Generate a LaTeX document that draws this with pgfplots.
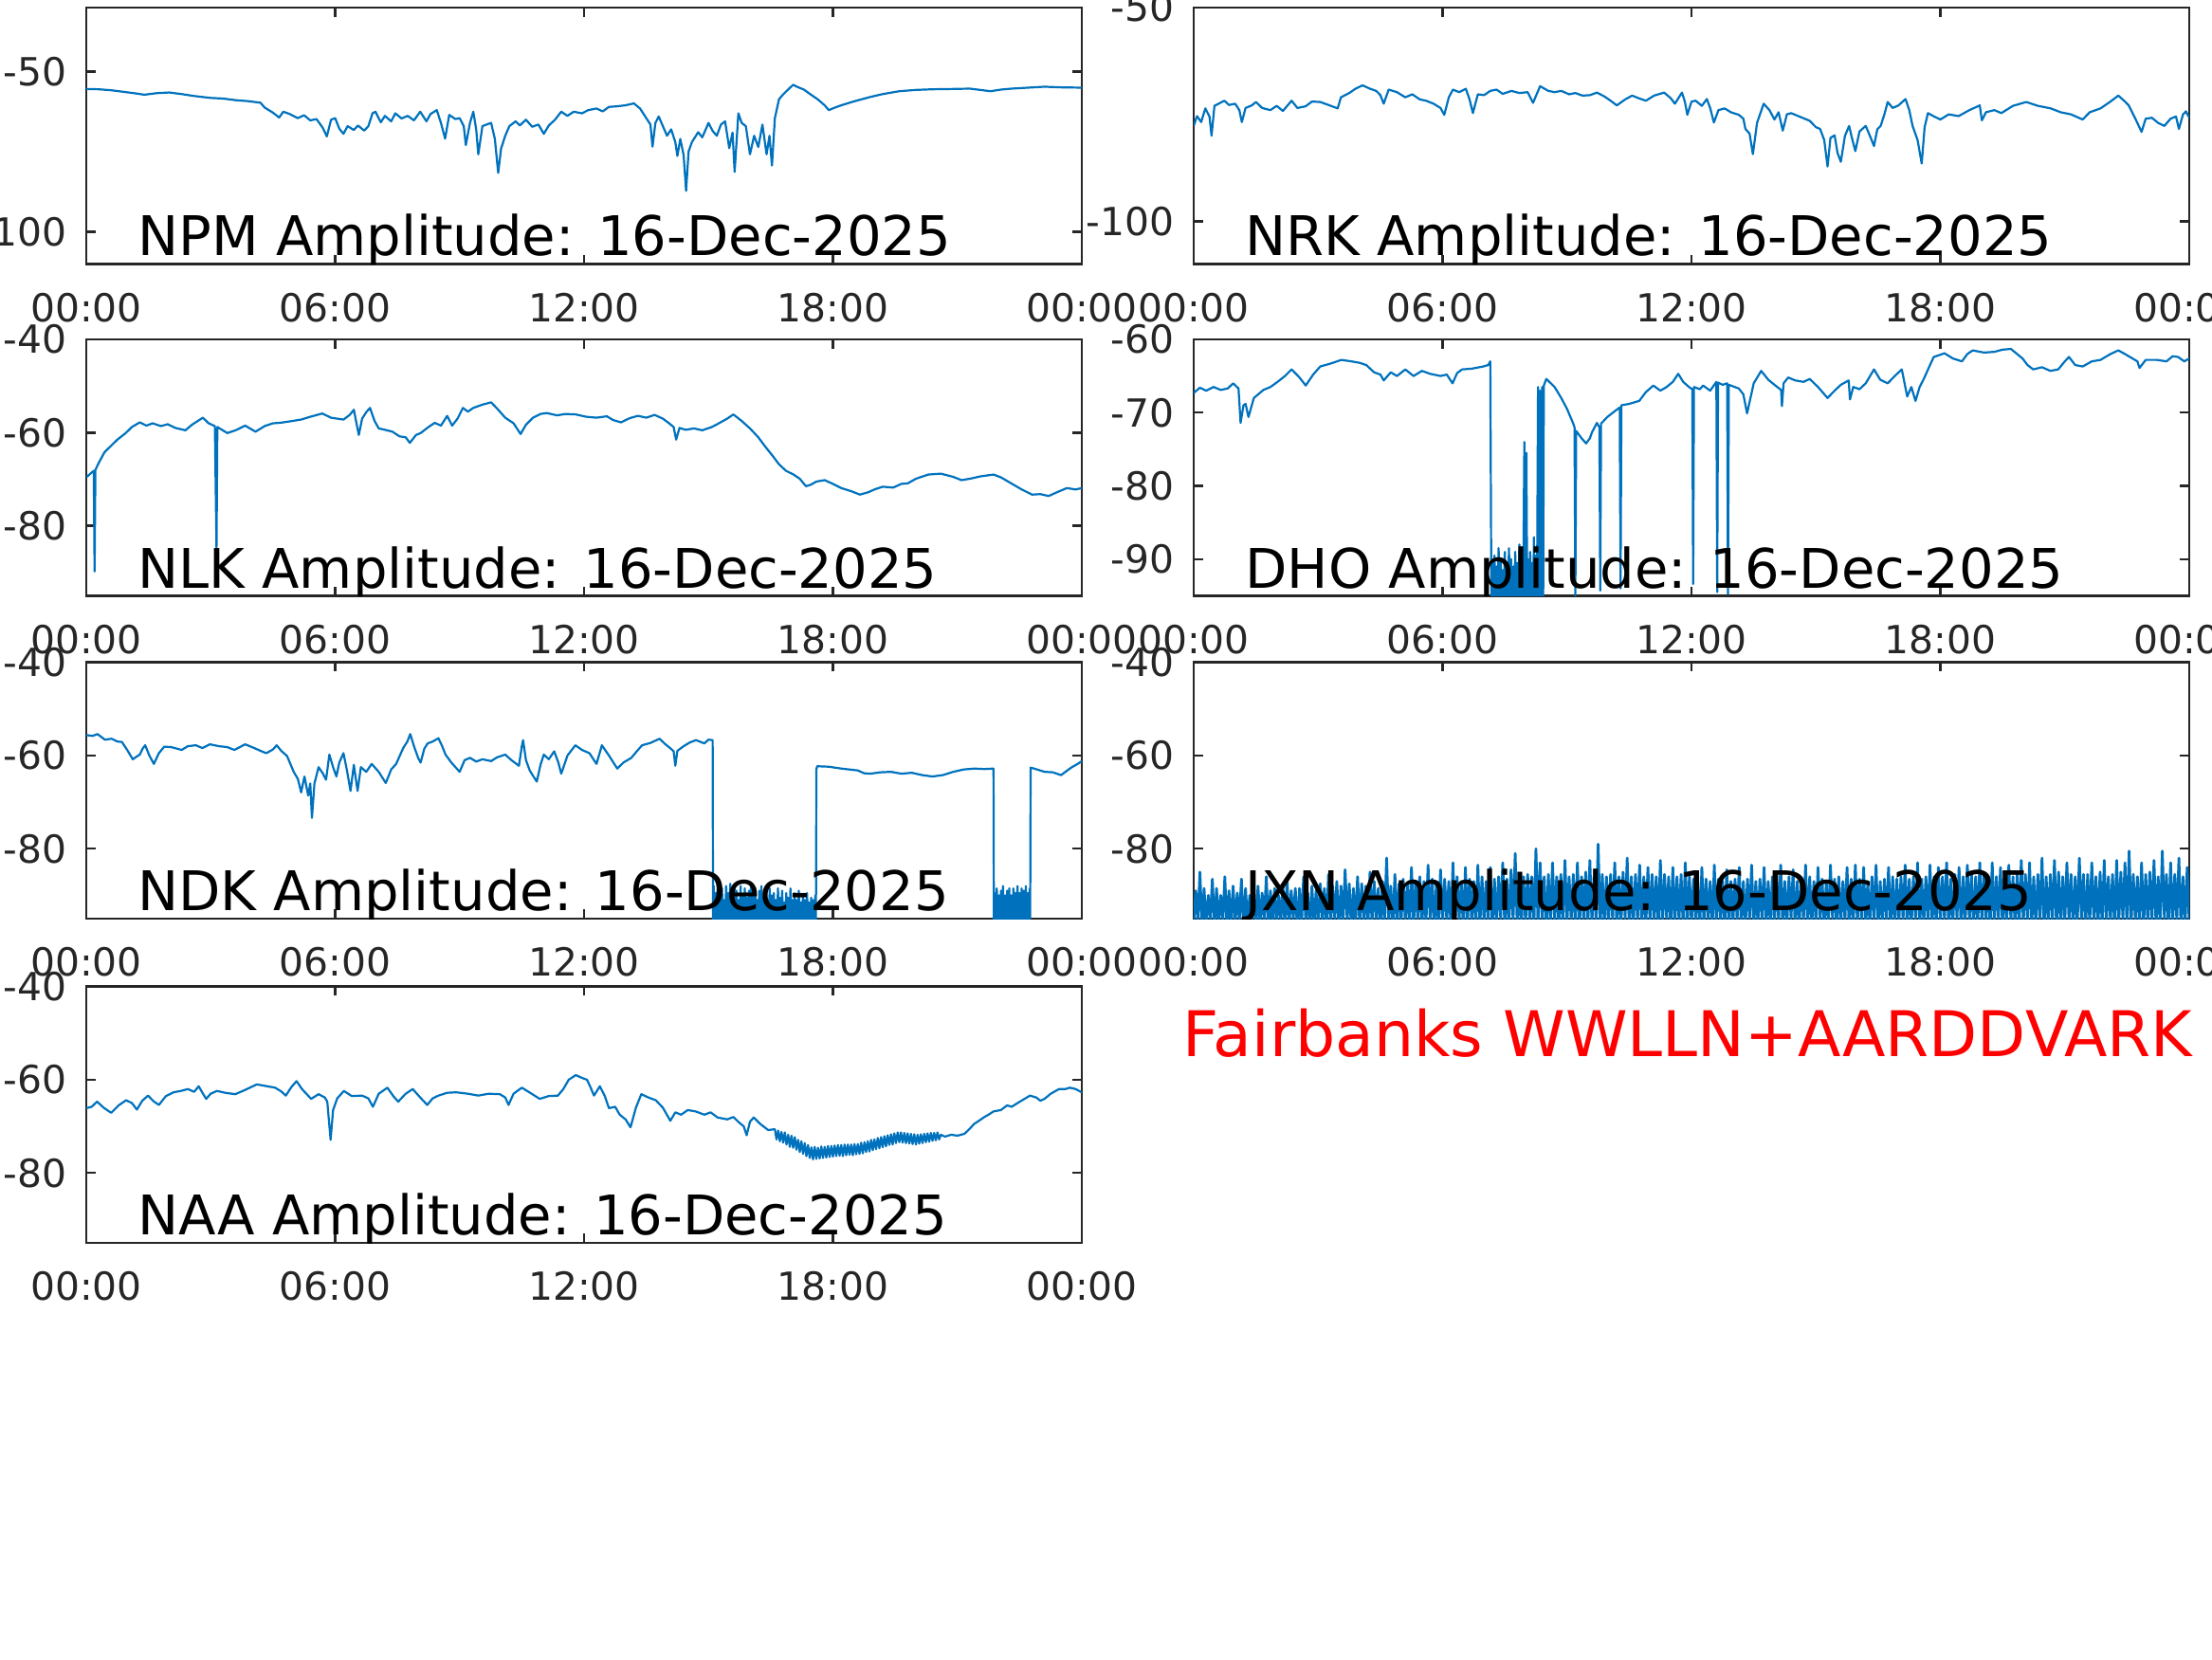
\documentclass[border=0pt]{standalone}
\usepackage{fontspec}
\setmainfont{DejaVu Sans}
\usepackage{pgfplots}
\usepackage{pgfplotstable}
\pgfplotsset{compat=1.18}
\definecolor{axgray}{HTML}{262626}
\definecolor{mblue}{HTML}{0072BD}

% hours since 00:00 UT, amplitude (dB)
\pgfplotstableread{
h a
0.00 -55.4
0.30 -55.5
0.60 -55.8
0.90 -56.3
1.20 -56.8
1.40 -57.2
1.70 -56.7
2.00 -56.5
2.30 -57.0
2.60 -57.6
3.00 -58.2
3.30 -58.4
3.60 -58.9
3.90 -59.2
4.20 -59.7
4.30 -61.2
4.50 -62.8
4.65 -64.3
4.75 -62.5
4.90 -63.2
5.10 -64.5
5.25 -63.6
5.40 -65.2
5.55 -64.8
5.70 -67.5
5.80 -70.2
5.90 -65.0
6.00 -64.5
6.10 -67.8
6.20 -69.4
6.30 -67.0
6.45 -68.2
6.55 -66.8
6.70 -68.4
6.80 -67.0
6.90 -63.0
6.97 -62.5
7.10 -65.8
7.20 -63.8
7.35 -65.5
7.45 -63.0
7.60 -64.6
7.75 -63.8
7.90 -65.2
8.05 -62.5
8.20 -65.5
8.30 -63.2
8.45 -62.0
8.55 -66.0
8.65 -70.9
8.75 -63.5
8.90 -64.8
9.00 -64.5
9.10 -67.0
9.15 -72.9
9.25 -66.0
9.33 -62.5
9.40 -68.0
9.45 -75.8
9.55 -67.0
9.65 -66.5
9.76 -66.0
9.85 -71.0
9.93 -81.6
10.00 -74.0
10.10 -70.0
10.20 -67.0
10.35 -65.5
10.45 -66.8
10.60 -65.0
10.75 -67.2
10.90 -66.5
11.03 -69.4
11.15 -66.8
11.30 -65.0
11.45 -62.5
11.60 -63.8
11.75 -62.5
11.95 -63.0
12.10 -62.0
12.30 -61.5
12.45 -62.4
12.60 -61.0
12.80 -60.8
13.00 -60.5
13.20 -59.9
13.35 -61.5
13.50 -64.5
13.60 -66.5
13.65 -73.4
13.72 -66.0
13.80 -64.0
13.90 -67.0
14.00 -70.0
14.10 -68.0
14.20 -72.0
14.25 -76.3
14.32 -71.0
14.40 -76.0
14.46 -87.2
14.52 -74.9
14.60 -72.0
14.75 -68.9
14.85 -70.5
15.00 -66.0
15.10 -68.5
15.20 -70.0
15.30 -66.5
15.40 -65.5
15.50 -73.9
15.58 -69.0
15.63 -81.3
15.72 -63.0
15.80 -66.0
15.90 -67.0
16.00 -75.8
16.10 -70.0
16.20 -73.5
16.30 -66.5
16.40 -75.8
16.47 -70.0
16.53 -79.3
16.60 -64.5
16.70 -58.6
16.80 -57.1
16.95 -55.2
17.04 -54.1
17.15 -54.8
17.30 -55.6
17.45 -57.0
17.63 -58.6
17.80 -60.5
17.90 -62.0
18.05 -61.2
18.20 -60.5
18.50 -59.3
18.90 -57.9
19.20 -57.0
19.60 -56.1
20.00 -55.7
20.40 -55.5
20.90 -55.4
21.30 -55.3
21.55 -55.7
21.80 -56.1
22.05 -55.6
22.30 -55.3
22.70 -55.0
23.10 -54.7
23.50 -54.9
24.00 -55.0
}\npm

\pgfplotstableread{
h a
0.00 -77.7
0.08 -75.4
0.18 -76.8
0.28 -73.6
0.38 -75.5
0.43 -80.0
0.50 -73.0
0.60 -72.5
0.74 -71.8
0.85 -72.8
1.00 -72.5
1.10 -74.0
1.16 -76.8
1.25 -73.5
1.40 -72.9
1.50 -72.1
1.65 -73.5
1.85 -74.0
2.00 -73.0
2.15 -74.2
2.36 -71.8
2.50 -73.5
2.70 -73.1
2.85 -72.0
3.05 -72.1
3.25 -72.8
3.47 -73.6
3.55 -71.0
3.75 -70.0
3.90 -69.0
4.07 -68.2
4.25 -69.0
4.40 -69.5
4.50 -70.5
4.58 -72.5
4.70 -69.2
4.90 -69.8
5.10 -71.0
5.27 -70.3
5.45 -71.5
5.60 -71.8
5.78 -72.5
5.95 -73.5
6.04 -75.1
6.15 -71.0
6.25 -69.2
6.40 -69.8
6.56 -69.0
6.65 -71.5
6.73 -74.7
6.85 -70.3
7.00 -70.5
7.15 -69.5
7.30 -69.2
7.45 -70.2
7.66 -69.5
7.85 -70.0
8.05 -69.8
8.18 -72.3
8.35 -68.4
8.55 -69.5
8.70 -69.8
8.86 -69.5
9.05 -70.3
9.20 -70.0
9.37 -70.6
9.55 -70.5
9.72 -69.9
9.90 -70.8
10.05 -71.8
10.20 -72.9
10.40 -71.5
10.57 -70.6
10.75 -71.3
10.90 -71.8
11.10 -70.6
11.34 -69.9
11.50 -71.2
11.60 -72.5
11.77 -69.9
11.84 -72.0
11.90 -75.1
12.00 -72.0
12.10 -71.8
12.25 -73.0
12.37 -71.4
12.45 -73.5
12.54 -76.9
12.65 -74.0
12.80 -73.6
12.95 -74.5
13.14 -75.1
13.25 -76.0
13.30 -78.4
13.40 -79.5
13.48 -84.3
13.58 -77.0
13.74 -72.5
13.88 -74.0
14.00 -76.2
14.10 -74.5
14.20 -78.8
14.30 -75.0
14.40 -74.7
14.60 -75.5
14.85 -76.5
15.00 -78.0
15.10 -78.4
15.20 -81.0
15.28 -87.2
15.35 -80.5
15.45 -79.9
15.52 -84.0
15.60 -86.1
15.70 -80.0
15.80 -77.7
15.88 -81.0
15.95 -83.6
16.05 -79.0
16.20 -77.7
16.30 -80.0
16.40 -82.4
16.48 -78.5
16.56 -77.7
16.65 -75.0
16.73 -72.1
16.85 -73.5
16.99 -72.9
17.16 -71.4
17.25 -74.0
17.33 -77.7
17.45 -81.0
17.55 -86.5
17.62 -78.0
17.70 -74.7
17.85 -75.5
18.00 -76.2
18.20 -75.0
18.44 -75.4
18.70 -74.0
18.95 -72.9
19.00 -76.4
19.10 -74.5
19.30 -74.0
19.47 -74.7
19.75 -73.0
20.07 -72.1
20.35 -73.0
20.66 -73.6
20.90 -74.5
21.15 -75.0
21.43 -76.2
21.60 -74.5
21.86 -73.6
22.10 -72.0
22.29 -70.6
22.45 -72.0
22.54 -72.9
22.70 -76.0
22.85 -79.1
22.95 -76.0
23.10 -75.8
23.25 -77.0
23.40 -77.7
23.55 -76.0
23.68 -75.5
23.75 -78.4
23.85 -75.0
23.92 -74.3
24.00 -75.8
}\nrk

\pgfplotstableread{
h a
0.00 -69.6
0.10 -68.8
0.18 -68.2
0.20 -89.8
0.22 -68.0
0.30 -66.5
0.44 -64.2
0.60 -62.8
0.75 -61.5
0.95 -60.1
1.10 -58.8
1.29 -57.8
1.45 -58.5
1.60 -58.0
1.80 -58.6
1.96 -58.2
2.15 -59.0
2.39 -59.5
2.55 -58.3
2.81 -56.8
2.95 -58.0
3.10 -58.6
3.14 -85.0
3.16 -58.8
3.40 -60.1
3.60 -59.5
3.83 -58.5
4.08 -59.8
4.30 -58.6
4.50 -58.0
4.67 -57.9
4.90 -57.6
5.18 -57.2
5.40 -56.6
5.69 -55.9
5.90 -56.8
6.20 -57.2
6.35 -56.2
6.45 -55.1
6.57 -60.5
6.65 -57.0
6.75 -55.6
6.84 -54.7
6.95 -57.5
7.05 -59.1
7.20 -59.4
7.38 -59.8
7.55 -60.8
7.70 -61.0
7.80 -62.2
7.95 -60.5
8.06 -60.1
8.25 -58.8
8.40 -57.9
8.55 -58.5
8.70 -56.4
8.82 -58.5
8.95 -57.0
9.08 -54.7
9.20 -55.5
9.33 -54.7
9.55 -54.0
9.76 -53.5
9.90 -54.8
10.10 -56.8
10.30 -58.0
10.47 -60.3
10.60 -58.3
10.77 -56.8
10.95 -56.0
11.10 -55.8
11.35 -56.3
11.55 -56.0
11.80 -56.1
12.05 -56.6
12.30 -56.8
12.55 -56.5
12.70 -57.3
12.89 -57.8
13.10 -56.9
13.30 -56.4
13.50 -56.8
13.70 -56.2
13.90 -57.0
14.05 -58.0
14.16 -58.8
14.22 -61.5
14.30 -59.0
14.45 -59.4
14.65 -59.1
14.85 -59.5
15.08 -58.8
15.25 -58.0
15.45 -57.0
15.60 -56.1
15.80 -57.5
16.00 -59.1
16.20 -61.0
16.35 -62.8
16.53 -64.8
16.70 -66.8
16.87 -68.2
17.05 -69.0
17.20 -69.9
17.35 -71.5
17.46 -71.2
17.60 -70.5
17.80 -70.2
18.00 -71.0
18.20 -71.9
18.45 -72.6
18.65 -73.3
18.85 -72.8
19.00 -72.2
19.20 -71.6
19.45 -71.8
19.65 -71.0
19.80 -70.9
20.00 -69.9
20.30 -69.0
20.60 -68.8
20.90 -69.5
21.10 -70.2
21.30 -69.9
21.55 -69.4
21.87 -69.0
22.05 -69.6
22.30 -70.9
22.55 -72.2
22.80 -73.3
23.00 -73.2
23.20 -73.6
23.40 -72.8
23.64 -71.9
23.85 -72.2
24.00 -71.9
}\nlk

\pgfplotstableread[row sep=\\]{
h a\\
0.00 -67.3\\ 0.15 -66.6\\ 0.30 -67.0\\ 0.48 -66.5\\ 0.65 -66.9\\ 0.82 -66.7\\ 0.95 -66.0\\ 1.08 -66.7\\ 1.13 -71.4\\ 1.20 -69.0\\
1.25 -68.8\\ 1.32 -70.6\\ 1.45 -68.0\\ 1.68 -66.9\\ 1.85 -66.5\\ 2.02 -65.8\\ 2.20 -65.0\\ 2.36 -64.1\\ 2.55 -65.2\\ 2.70 -66.3\\
2.88 -64.8\\ 3.05 -63.7\\ 3.30 -63.3\\ 3.56 -62.8\\ 3.80 -63.0\\ 4.00 -63.2\\ 4.16 -63.5\\ 4.35 -64.5\\ 4.50 -64.8\\ 4.58 -65.6\\
4.75 -64.5\\ 4.90 -65.0\\ 5.10 -64.1\\ 5.30 -65.0\\ 5.50 -64.3\\ 5.70 -64.7\\ 5.95 -65.0\\ 6.10 -64.8\\ 6.24 -66.0\\ 6.35 -64.6\\
6.47 -64.1\\ 6.70 -64.0\\ 6.98 -63.7\\ 7.10 -63.5\\ 7.15 -63.0\\
7.175 -95.5\\ 7.20 -90.5\\ 7.225 -96\\ 7.25 -89.5\\ 7.275 -95.5\\ 7.30 -91\\ 7.325 -96.5\\ 7.35 -88.5\\ 7.375 -95.5\\ 7.40 -90\\
7.425 -96\\ 7.45 -91.5\\ 7.475 -95.5\\ 7.50 -89\\ 7.525 -96.5\\ 7.55 -90.5\\ 7.575 -95.5\\ 7.60 -88.5\\ 7.625 -96\\ 7.65 -90\\
7.675 -95.5\\ 7.70 -91\\ 7.725 -96.5\\ 7.75 -89\\ 7.775 -95.5\\ 7.80 -90.5\\ 7.825 -96\\ 7.85 -88\\ 7.875 -95.5\\ 7.90 -90\\
7.925 -96.5\\ 7.95 -89.5\\ 7.97 -74\\ 7.99 -96\\ 8.02 -75.5\\ 8.04 -95.5\\ 8.06 -90\\ 8.085 -96\\ 8.11 -89\\ 8.135 -95.5\\
8.16 -90.5\\ 8.185 -96.5\\ 8.20 -87\\ 8.225 -95.5\\ 8.25 -89.5\\ 8.275 -96\\ 8.30 -66.5\\ 8.325 -95.5\\ 8.35 -67\\ 8.375 -96\\
8.40 -66.5\\ 8.425 -95.5\\ 8.44 -66.3\\
8.50 -65.4\\ 8.70 -66.5\\ 8.86 -68.0\\ 9.00 -69.5\\ 9.15 -71.5\\ 9.18 -72.0\\ 9.20 -95.5\\ 9.22 -72.5\\ 9.35 -73.5\\ 9.46 -74.2\\
9.55 -73.5\\ 9.60 -72.7\\ 9.72 -71.4\\ 9.78 -72.0\\ 9.80 -94.3\\ 9.82 -71.5\\ 9.97 -70.6\\ 10.15 -69.8\\ 10.27 -69.3\\ 10.29 -94.0\\
10.31 -69.0\\ 10.50 -68.8\\ 10.74 -68.4\\ 10.90 -67.2\\ 11.08 -66.3\\ 11.25 -67.0\\ 11.40 -66.5\\ 11.55 -65.8\\ 11.68 -64.7\\ 11.80 -65.8\\
11.94 -66.5\\ 12.02 -66.8\\ 12.04 -93.4\\ 12.06 -66.5\\ 12.20 -66.8\\ 12.28 -66.3\\ 12.45 -67.0\\ 12.60 -65.8\\ 12.62 -94.5\\ 12.64 -65.9\\
12.75 -66.2\\ 12.86 -66.0\\ 12.88 -94.8\\ 12.90 -66.2\\ 13.14 -66.7\\ 13.25 -67.5\\ 13.34 -70.1\\ 13.50 -66.0\\ 13.68 -64.3\\ 13.85 -65.5\\
14.00 -66.2\\ 14.16 -66.9\\ 14.18 -69.1\\ 14.22 -66.0\\ 14.33 -65.2\\ 14.50 -65.6\\ 14.70 -65.8\\ 14.85 -65.4\\ 15.05 -66.5\\ 15.28 -68.0\\
15.45 -67.0\\ 15.60 -66.2\\ 15.79 -65.6\\ 15.82 -68.2\\ 15.90 -66.5\\ 16.05 -66.8\\ 16.20 -66.0\\ 16.40 -64.1\\ 16.55 -65.5\\ 16.73 -66.0\\
16.90 -65.0\\ 17.07 -64.1\\ 17.20 -67.8\\ 17.30 -66.5\\ 17.40 -68.4\\ 17.50 -66.5\\ 17.60 -65.4\\ 17.75 -63.5\\ 17.84 -62.4\\ 18.10 -61.9\\
18.30 -62.6\\ 18.52 -63.0\\ 18.65 -62.0\\ 18.78 -61.5\\ 19.05 -61.8\\ 19.30 -61.7\\ 19.50 -61.4\\ 19.70 -61.3\\ 19.85 -62.0\\ 19.98 -62.6\\
20.10 -63.5\\ 20.24 -64.1\\ 20.45 -63.8\\ 20.65 -64.3\\ 20.84 -64.1\\ 21.00 -63.0\\ 21.10 -62.4\\ 21.25 -63.5\\ 21.43 -63.7\\ 21.65 -63.0\\
21.86 -62.8\\ 22.10 -62.0\\ 22.29 -61.5\\ 22.45 -62.0\\ 22.63 -62.6\\ 22.75 -63.0\\ 22.80 -63.9\\ 22.95 -62.8\\ 23.22 -62.8\\ 23.45 -63.0\\
23.60 -62.3\\ 23.73 -62.4\\ 23.88 -63.0\\ 24.00 -62.6\\
}\dho

\pgfplotstableread[row sep=\\]{
h a\\
0.00 -55.6\\ 0.15 -55.8\\ 0.27 -55.4\\ 0.45 -56.6\\ 0.61 -56.4\\ 0.75 -57.0\\ 0.86 -57.1\\ 1.00 -59.0\\ 1.12 -60.8\\ 1.22 -60.2\\
1.29 -59.8\\ 1.36 -58.5\\ 1.42 -57.8\\ 1.52 -60.0\\ 1.63 -61.8\\ 1.75 -59.5\\ 1.88 -58.1\\ 2.05 -58.2\\ 2.30 -58.8\\ 2.45 -58.0\\
2.64 -57.8\\ 2.80 -58.4\\ 2.98 -57.6\\ 3.20 -58.0\\ 3.40 -58.2\\ 3.57 -58.8\\ 3.70 -58.2\\ 3.83 -57.6\\ 4.05 -58.4\\ 4.20 -59.0\\
4.34 -59.5\\ 4.50 -58.7\\ 4.59 -57.8\\ 4.70 -59.0\\ 4.84 -60.1\\ 5.00 -63.5\\ 5.10 -65.0\\ 5.18 -67.9\\ 5.26 -64.5\\ 5.35 -68.6\\
5.40 -66.0\\ 5.44 -73.4\\ 5.50 -66.0\\ 5.60 -62.5\\ 5.70 -63.8\\ 5.78 -65.2\\ 5.86 -59.8\\ 5.95 -62.5\\ 6.03 -64.5\\ 6.10 -61.5\\
6.20 -59.5\\ 6.28 -63.0\\ 6.37 -67.6\\ 6.45 -62.0\\ 6.54 -67.6\\ 6.62 -62.5\\ 6.75 -63.5\\ 6.88 -61.8\\ 7.05 -63.5\\ 7.22 -65.9\\
7.35 -63.0\\ 7.47 -61.8\\ 7.56 -60.0\\ 7.64 -58.4\\ 7.74 -57.0\\ 7.81 -55.4\\ 7.90 -58.0\\ 8.00 -60.5\\ 8.06 -61.5\\ 8.15 -58.5\\
8.23 -57.4\\ 8.35 -57.0\\ 8.49 -56.3\\ 8.58 -58.0\\ 8.66 -59.8\\ 8.80 -61.5\\ 9.00 -63.5\\ 9.12 -61.0\\ 9.25 -60.5\\ 9.40 -61.3\\
9.55 -60.8\\ 9.76 -61.2\\ 9.90 -60.4\\ 10.10 -59.8\\ 10.25 -61.0\\ 10.43 -62.2\\ 10.50 -58.0\\ 10.53 -56.7\\ 10.60 -61.0\\ 10.69 -63.2\\
10.78 -64.5\\ 10.86 -65.6\\ 10.95 -62.0\\ 11.03 -59.8\\ 11.15 -60.8\\ 11.28 -59.1\\ 11.38 -61.5\\ 11.45 -63.9\\ 11.60 -60.0\\ 11.79 -57.8\\
11.95 -58.8\\ 12.13 -59.5\\ 12.30 -61.8\\ 12.43 -57.8\\ 12.60 -60.0\\ 12.80 -62.8\\ 12.95 -61.5\\ 13.14 -60.5\\ 13.28 -59.0\\ 13.40 -57.8\\
13.60 -57.3\\ 13.82 -56.4\\ 13.95 -57.5\\ 14.10 -58.6\\ 14.16 -59.1\\ 14.20 -62.2\\ 14.25 -59.0\\ 14.40 -58.0\\ 14.55 -57.2\\ 14.70 -56.7\\
14.90 -57.4\\ 15.00 -56.6\\ 15.10 -56.7\\
15.110 -95.5\\ 15.125 -88\\ 15.150 -96\\ 15.175 -89.5\\ 15.200 -95.5\\ 15.225 -87\\ 15.250 -96.5\\ 15.275 -90\\ 15.300 -95.5\\ 15.325 -88.5\\
15.350 -96\\ 15.375 -91\\ 15.400 -95.5\\ 15.425 -88\\ 15.450 -96.5\\ 15.475 -89.5\\ 15.500 -95.5\\ 15.525 -87.5\\ 15.550 -96\\ 15.575 -90.5\\
15.600 -95.5\\ 15.625 -88.5\\ 15.650 -96.5\\ 15.675 -89\\ 15.700 -95.5\\ 15.725 -91\\ 15.750 -96\\ 15.775 -88\\ 15.800 -95.5\\ 15.825 -90\\
15.850 -96.5\\ 15.875 -88.5\\ 15.900 -95.5\\ 15.925 -90.5\\ 15.950 -96\\ 15.975 -89\\ 16.000 -95.5\\ 16.025 -87.5\\ 16.050 -96.5\\ 16.075 -90\\
16.100 -95.5\\ 16.125 -88.5\\ 16.150 -96\\ 16.175 -91\\ 16.200 -95.5\\ 16.225 -89\\ 16.250 -96.5\\ 16.275 -88\\ 16.300 -95.5\\ 16.325 -90.5\\
16.350 -96\\ 16.375 -89\\ 16.400 -95.5\\ 16.425 -91\\ 16.450 -96.5\\ 16.475 -88.5\\ 16.500 -95.5\\ 16.525 -90\\ 16.550 -96\\ 16.575 -89.5\\
16.600 -95.5\\ 16.625 -91\\ 16.650 -96.5\\ 16.675 -88.5\\ 16.700 -95.5\\ 16.725 -90.5\\ 16.750 -96\\ 16.775 -89\\ 16.800 -95.5\\ 16.825 -91.5\\
16.850 -96.5\\ 16.875 -89.5\\ 16.900 -95.5\\ 16.925 -90.5\\ 16.950 -96\\ 16.975 -88.5\\ 17.000 -95.5\\ 17.025 -91\\ 17.050 -96.5\\ 17.075 -89.5\\
17.100 -95.5\\ 17.125 -91\\ 17.150 -96\\ 17.175 -89\\ 17.200 -95.5\\ 17.225 -91.5\\ 17.250 -96.5\\ 17.275 -90\\ 17.300 -95.5\\ 17.325 -91\\
17.350 -96\\ 17.375 -89.5\\ 17.400 -95.5\\ 17.425 -91.5\\ 17.450 -96.5\\ 17.475 -90.5\\ 17.500 -95.5\\ 17.525 -91\\ 17.550 -96\\ 17.575 -90\\
17.590 -95.5\\ 17.600 -63.0\\ 17.620 -62.3\\
17.90 -62.4\\ 18.20 -62.8\\ 18.40 -63.0\\ 18.60 -63.2\\ 18.75 -63.8\\ 18.90 -63.9\\ 19.15 -63.6\\ 19.40 -63.5\\ 19.65 -63.9\\ 19.90 -63.7\\
20.15 -64.2\\ 20.40 -64.5\\ 20.65 -64.2\\ 20.90 -63.5\\ 21.15 -63.0\\ 21.40 -62.8\\ 21.65 -62.9\\ 21.87 -62.8\\
21.880 -95.5\\ 21.900 -89.5\\ 21.925 -96\\ 21.950 -88.5\\ 21.975 -95.5\\ 22.000 -90\\ 22.025 -96.5\\ 22.050 -89\\ 22.075 -95.5\\ 22.100 -88\\
22.125 -96\\ 22.150 -90\\ 22.175 -95.5\\ 22.200 -89\\ 22.225 -96.5\\ 22.250 -88.5\\ 22.275 -95.5\\ 22.300 -90\\ 22.325 -96\\ 22.350 -88.5\\
22.375 -95.5\\ 22.400 -89.5\\ 22.425 -96.5\\ 22.450 -88\\ 22.475 -95.5\\ 22.500 -89.5\\ 22.525 -96\\ 22.550 -88.5\\ 22.575 -95.5\\ 22.600 -89\\
22.625 -96.5\\ 22.650 -88\\ 22.675 -95.5\\ 22.700 -89.5\\ 22.725 -96\\ 22.745 -88.5\\ 22.755 -95\\ 22.765 -62.6\\
22.85 -62.8\\ 23.10 -63.5\\ 23.30 -63.6\\ 23.50 -64.2\\ 23.65 -63.2\\ 23.76 -62.5\\ 23.90 -61.8\\ 24.00 -61.2\\
}\ndk

% JXN: noise only, every 3 minutes (one line = half an hour)
\pgfplotstableread[row sep=\\]{
h a\\
0.00 -96\\ 0.05 -89\\ 0.10 -95.5\\ 0.15 -85\\ 0.20 -97\\ 0.25 -88.5\\ 0.30 -96.5\\ 0.35 -90\\ 0.40 -95\\ 0.45 -86.5\\
0.50 -97.5\\ 0.55 -88.5\\ 0.60 -96\\ 0.65 -90\\ 0.70 -95.5\\ 0.75 -86\\ 0.80 -97\\ 0.85 -89\\ 0.90 -96.5\\ 0.95 -88\\
1.00 -96\\ 1.05 -89.5\\ 1.10 -95.5\\ 1.15 -86.5\\ 1.20 -97\\ 1.25 -88.5\\ 1.30 -96.5\\ 1.35 -90\\ 1.40 -95\\ 1.45 -88\\
1.50 -97.5\\ 1.55 -88\\ 1.60 -96\\ 1.65 -89.5\\ 1.70 -95.5\\ 1.75 -86\\ 1.80 -97\\ 1.85 -89\\ 1.90 -96.5\\ 1.95 -88.5\\
2.00 -96\\ 2.05 -90\\ 2.10 -95.5\\ 2.15 -88\\ 2.20 -97\\ 2.25 -86.5\\ 2.30 -96.5\\ 2.35 -89\\ 2.40 -95\\ 2.45 -88.5\\
2.50 -97.5\\ 2.55 -88.5\\ 2.60 -96\\ 2.65 -86\\ 2.70 -95.5\\ 2.75 -89.5\\ 2.80 -97\\ 2.85 -88\\ 2.90 -96.5\\ 2.95 -89\\
3.00 -96\\ 3.05 -87.5\\ 3.10 -95.5\\ 3.15 -88.5\\ 3.20 -97\\ 3.25 -85.5\\ 3.30 -96.5\\ 3.35 -88\\ 3.40 -95\\ 3.45 -87\\
3.50 -97.5\\ 3.55 -88\\ 3.60 -96\\ 3.65 -84.5\\ 3.70 -95.5\\ 3.75 -87.5\\ 3.80 -97\\ 3.85 -88.5\\ 3.90 -96.5\\ 3.95 -86\\
4.00 -96\\ 4.05 -87.5\\ 4.10 -95.5\\ 4.15 -88\\ 4.20 -97\\ 4.25 -85\\ 4.30 -96.5\\ 4.35 -87\\ 4.40 -95\\ 4.45 -88.5\\
4.50 -97.5\\ 4.55 -87\\ 4.60 -96\\ 4.65 -82\\ 4.70 -95.5\\ 4.75 -88\\ 4.80 -97\\ 4.85 -85.5\\ 4.90 -96.5\\ 4.95 -87.5\\
5.00 -96\\ 5.05 -86.5\\ 5.10 -95.5\\ 5.15 -87.5\\ 5.20 -97\\ 5.25 -84\\ 5.30 -96.5\\ 5.35 -87\\ 5.40 -95\\ 5.45 -86\\
5.50 -97.5\\ 5.55 -87\\ 5.60 -96\\ 5.65 -83.5\\ 5.70 -95.5\\ 5.75 -86.5\\ 5.80 -97\\ 5.85 -87.5\\ 5.90 -96.5\\ 5.95 -84.5\\
6.00 -96\\ 6.05 -86.5\\ 6.10 -95.5\\ 6.15 -87\\ 6.20 -97\\ 6.25 -83\\ 6.30 -96.5\\ 6.35 -86\\ 6.40 -95\\ 6.45 -87\\
6.50 -97.5\\ 6.55 -84\\ 6.60 -96\\ 6.65 -86.5\\ 6.70 -95.5\\ 6.75 -87\\ 6.80 -97\\ 6.85 -83.5\\ 6.90 -96.5\\ 6.95 -86\\
7.00 -96\\ 7.05 -87\\ 7.10 -95.5\\ 7.15 -84\\ 7.20 -97\\ 7.25 -86.5\\ 7.30 -96.5\\ 7.35 -86\\ 7.40 -95\\ 7.45 -83\\
7.50 -97.5\\ 7.55 -86.5\\ 7.60 -96\\ 7.65 -84.5\\ 7.70 -95.5\\ 7.75 -81\\ 7.80 -97\\ 7.85 -87\\ 7.90 -96.5\\ 7.95 -86\\
8.00 -96\\ 8.05 -85.5\\ 8.10 -95.5\\ 8.15 -86\\ 8.20 -97\\ 8.25 -80\\ 8.30 -96.5\\ 8.35 -83\\ 8.40 -95\\ 8.45 -86\\
8.50 -97.5\\ 8.55 -85.5\\ 8.60 -96\\ 8.65 -83\\ 8.70 -95.5\\ 8.75 -86\\ 8.80 -97\\ 8.85 -85.5\\ 8.90 -96.5\\ 8.95 -82.5\\
9.00 -96\\ 9.05 -86\\ 9.10 -95.5\\ 9.15 -85.5\\ 9.20 -97\\ 9.25 -83\\ 9.30 -96.5\\ 9.35 -86\\ 9.40 -95\\ 9.45 -85\\
9.50 -97.5\\ 9.55 -82.5\\ 9.60 -96\\ 9.65 -86\\ 9.70 -95.5\\ 9.75 -79\\ 9.80 -97\\ 9.85 -85.5\\ 9.90 -96.5\\ 9.95 -86\\
10.00 -96\\ 10.05 -85.5\\ 10.10 -95.5\\ 10.15 -83\\ 10.20 -97\\ 10.25 -86\\ 10.30 -96.5\\ 10.35 -85\\ 10.40 -95\\ 10.45 -82\\
10.50 -97.5\\ 10.55 -86\\ 10.60 -96\\ 10.65 -85.5\\ 10.70 -95.5\\ 10.75 -83.5\\ 10.80 -97\\ 10.85 -86\\ 10.90 -96.5\\ 10.95 -84\\
11.00 -96\\ 11.05 -85.5\\ 11.10 -95.5\\ 11.15 -86\\ 11.20 -97\\ 11.25 -82.5\\ 11.30 -96.5\\ 11.35 -85.5\\ 11.40 -95\\ 11.45 -86\\
11.50 -97.5\\ 11.55 -84\\ 11.60 -96\\ 11.65 -86\\ 11.70 -95.5\\ 11.75 -85.5\\ 11.80 -97\\ 11.85 -83\\ 11.90 -96.5\\ 11.95 -86\\
12.00 -96\\ 12.05 -86.5\\ 12.10 -95.5\\ 12.15 -87\\ 12.20 -97\\ 12.25 -84\\ 12.30 -96.5\\ 12.35 -86.5\\ 12.40 -95\\ 12.45 -87\\
12.50 -97.5\\ 12.55 -83.5\\ 12.60 -96\\ 12.65 -86.5\\ 12.70 -95.5\\ 12.75 -87\\ 12.80 -97\\ 12.85 -84.5\\ 12.90 -96.5\\ 12.95 -87\\
13.00 -96\\ 13.05 -86.5\\ 13.10 -95.5\\ 13.15 -84\\ 13.20 -97\\ 13.25 -87\\ 13.30 -96.5\\ 13.35 -86.5\\ 13.40 -95\\ 13.45 -83.5\\
13.50 -97.5\\ 13.55 -87\\ 13.60 -96\\ 13.65 -86.5\\ 13.70 -95.5\\ 13.75 -84\\ 13.80 -97\\ 13.85 -87\\ 13.90 -96.5\\ 13.95 -86\\
14.00 -96\\ 14.05 -86.5\\ 14.10 -95.5\\ 14.15 -83.5\\ 14.20 -97\\ 14.25 -87\\ 14.30 -96.5\\ 14.35 -86\\ 14.40 -95\\ 14.45 -84.5\\
14.50 -97.5\\ 14.55 -87\\ 14.60 -96\\ 14.65 -86.5\\ 14.70 -95.5\\ 14.75 -83.5\\ 14.80 -97\\ 14.85 -86\\ 14.90 -96.5\\ 14.95 -87\\
15.00 -96\\ 15.05 -84\\ 15.10 -95.5\\ 15.15 -86.5\\ 15.20 -97\\ 15.25 -87\\ 15.30 -96.5\\ 15.35 -83.5\\ 15.40 -95\\ 15.45 -86.5\\
15.50 -97.5\\ 15.55 -86\\ 15.60 -96\\ 15.65 -87\\ 15.70 -95.5\\ 15.75 -84\\ 15.80 -97\\ 15.85 -86.5\\ 15.90 -96.5\\ 15.95 -83.5\\
16.00 -96\\ 16.05 -86.5\\ 16.10 -95.5\\ 16.15 -84\\ 16.20 -97\\ 16.25 -87\\ 16.30 -96.5\\ 16.35 -86\\ 16.40 -95\\ 16.45 -83.5\\
16.50 -97.5\\ 16.55 -87\\ 16.60 -96\\ 16.65 -86.5\\ 16.70 -95.5\\ 16.75 -84\\ 16.80 -97\\ 16.85 -86\\ 16.90 -96.5\\ 16.95 -86.5\\
17.00 -96\\ 17.05 -86\\ 17.10 -95.5\\ 17.15 -83.5\\ 17.20 -97\\ 17.25 -86.5\\ 17.30 -96.5\\ 17.35 -86\\ 17.40 -95\\ 17.45 -83\\
17.50 -97.5\\ 17.55 -86.5\\ 17.60 -96\\ 17.65 -86\\ 17.70 -95.5\\ 17.75 -83.5\\ 17.80 -97\\ 17.85 -86\\ 17.90 -96.5\\ 17.95 -84\\
18.00 -96\\ 18.05 -86\\ 18.10 -95.5\\ 18.15 -83\\ 18.20 -97\\ 18.25 -86.5\\ 18.30 -96.5\\ 18.35 -85.5\\ 18.40 -95\\ 18.45 -84\\
18.50 -97.5\\ 18.55 -86\\ 18.60 -96\\ 18.65 -83.5\\ 18.70 -95.5\\ 18.75 -85.5\\ 18.80 -97\\ 18.85 -86\\ 18.90 -96.5\\ 18.95 -83\\
19.00 -96\\ 19.05 -85.5\\ 19.10 -95.5\\ 19.15 -86\\ 19.20 -97\\ 19.25 -83\\ 19.30 -96.5\\ 19.35 -86\\ 19.40 -95\\ 19.45 -84\\
19.50 -97.5\\ 19.55 -86\\ 19.60 -96\\ 19.65 -83.5\\ 19.70 -95.5\\ 19.75 -86\\ 19.80 -97\\ 19.85 -85.5\\ 19.90 -96.5\\ 19.95 -82.5\\
20.00 -96\\ 20.05 -85.5\\ 20.10 -95.5\\ 20.15 -83\\ 20.20 -97\\ 20.25 -86\\ 20.30 -96.5\\ 20.35 -85.5\\ 20.40 -95\\ 20.45 -82\\
20.50 -97.5\\ 20.55 -86\\ 20.60 -96\\ 20.65 -85.5\\ 20.70 -95.5\\ 20.75 -82.5\\ 20.80 -97\\ 20.85 -85\\ 20.90 -96.5\\ 20.95 -86\\
21.00 -96\\ 21.05 -83\\ 21.10 -95.5\\ 21.15 -85.5\\ 21.20 -97\\ 21.25 -86\\ 21.30 -96.5\\ 21.35 -82\\ 21.40 -95\\ 21.45 -85.5\\
21.50 -97.5\\ 21.55 -85.5\\ 21.60 -96\\ 21.65 -83\\ 21.70 -95.5\\ 21.75 -86\\ 21.80 -97\\ 21.85 -85\\ 21.90 -96.5\\ 21.95 -82.5\\
22.00 -96\\ 22.05 -86\\ 22.10 -95.5\\ 22.15 -85.5\\ 22.20 -97\\ 22.25 -82.5\\ 22.30 -96.5\\ 22.35 -85\\ 22.40 -95\\ 22.45 -83\\
22.50 -97.5\\ 22.55 -80.5\\ 22.60 -96\\ 22.65 -85.5\\ 22.70 -95.5\\ 22.75 -86\\ 22.80 -97\\ 22.85 -83\\ 22.90 -96.5\\ 22.95 -85.5\\
23.00 -96\\ 23.05 -85\\ 23.10 -95.5\\ 23.15 -82.5\\ 23.20 -97\\ 23.25 -86\\ 23.30 -96.5\\ 23.35 -80.5\\ 23.40 -95\\ 23.45 -85.5\\
23.50 -97.5\\ 23.55 -83\\ 23.60 -96\\ 23.65 -85.5\\ 23.70 -95.5\\ 23.75 -82\\ 23.80 -97\\ 23.85 -86\\ 23.90 -96.5\\ 23.95 -84\\
24.00 -96\\
}\jxn

\pgfplotstableread[row sep=\\]{
h a\\
0.00 -66.1\\ 0.13 -65.8\\ 0.26 -64.7\\ 0.42 -66.0\\ 0.60 -67.1\\ 0.78 -65.5\\ 0.96 -64.4\\ 1.10 -65.0\\ 1.22 -66.4\\ 1.35 -64.5\\
1.49 -63.4\\ 1.62 -64.6\\ 1.75 -65.4\\ 1.92 -63.5\\ 2.10 -62.7\\ 2.28 -62.4\\ 2.45 -62.0\\ 2.60 -62.6\\ 2.71 -61.4\\ 2.80 -62.8\\
2.89 -64.1\\ 3.00 -63.0\\ 3.15 -62.4\\ 3.35 -62.8\\ 3.59 -63.1\\ 3.80 -62.3\\ 4.11 -61.0\\ 4.30 -61.3\\ 4.55 -61.7\\ 4.70 -62.5\\
4.81 -63.4\\ 4.95 -61.5\\ 5.07 -60.3\\ 5.20 -62.0\\ 5.42 -64.1\\ 5.60 -63.1\\ 5.75 -63.8\\ 5.81 -64.7\\ 5.89 -72.9\\ 5.95 -66.5\\
6.05 -64.0\\ 6.21 -62.4\\ 6.40 -63.5\\ 6.65 -63.4\\ 6.80 -64.0\\ 6.91 -65.8\\ 7.05 -63.0\\ 7.26 -61.7\\ 7.40 -63.5\\ 7.52 -64.7\\
7.70 -63.0\\ 7.87 -62.0\\ 8.05 -63.8\\ 8.22 -65.4\\ 8.35 -64.0\\ 8.49 -63.4\\ 8.70 -62.8\\ 8.92 -62.7\\ 9.20 -63.0\\ 9.45 -63.4\\
9.70 -63.0\\ 9.97 -63.1\\ 10.10 -63.8\\ 10.18 -65.4\\ 10.30 -63.0\\ 10.50 -61.7\\ 10.70 -62.8\\ 10.93 -64.1\\ 11.15 -63.5\\ 11.37 -63.4\\
11.50 -62.0\\ 11.63 -60.0\\ 11.80 -59.0\\ 11.95 -59.6\\ 12.07 -60.0\\ 12.15 -61.5\\ 12.24 -63.4\\ 12.38 -61.4\\ 12.50 -63.5\\ 12.60 -66.1\\
12.75 -65.8\\ 12.86 -67.5\\ 13.00 -68.5\\ 13.12 -70.2\\ 13.25 -66.0\\ 13.38 -63.1\\ 13.55 -63.8\\ 13.73 -64.4\\ 13.90 -66.0\\ 14.08 -68.8\\
14.20 -67.0\\ 14.34 -67.5\\ 14.50 -66.5\\ 14.69 -66.8\\ 14.90 -67.5\\ 15.05 -67.0\\ 15.22 -68.1\\ 15.45 -68.5\\ 15.60 -68.0\\ 15.74 -69.2\\
15.85 -70.0\\ 15.92 -71.9\\ 16.00 -69.0\\ 16.09 -68.1\\ 16.25 -69.5\\ 16.44 -70.8\\
16.60 -70.6\\ 16.64 -72.8\\ 16.68 -70.9\\ 16.72 -73.2\\ 16.76 -71.2\\ 16.80 -73.5\\ 16.84 -71.3\\ 16.88 -73.9\\ 16.92 -71.8\\ 16.96 -74.4\\
17.00 -72.0\\ 17.04 -74.6\\ 17.08 -72.3\\ 17.12 -75.0\\ 17.16 -72.9\\ 17.20 -75.5\\ 17.24 -73.2\\ 17.28 -75.9\\ 17.32 -73.6\\ 17.36 -76.4\\
17.40 -74.0\\ 17.44 -76.8\\ 17.48 -74.5\\ 17.52 -77.1\\ 17.56 -74.4\\ 17.60 -77.0\\ 17.64 -74.6\\ 17.68 -76.9\\ 17.72 -74.3\\ 17.76 -76.8\\
17.80 -74.4\\ 17.84 -76.7\\ 17.88 -74.2\\ 17.92 -76.6\\ 17.96 -74.2\\ 18.00 -76.5\\ 18.04 -74.1\\ 18.08 -76.4\\ 18.12 -74.0\\ 18.16 -76.3\\
18.20 -74.0\\ 18.24 -76.4\\ 18.28 -73.9\\ 18.32 -76.2\\ 18.36 -73.9\\ 18.40 -76.1\\ 18.44 -73.9\\ 18.48 -76.2\\ 18.52 -73.8\\ 18.56 -76.0\\
18.60 -73.8\\ 18.64 -75.9\\ 18.68 -73.5\\ 18.72 -75.8\\ 18.76 -73.4\\ 18.80 -75.5\\ 18.84 -73.2\\ 18.88 -75.4\\ 18.92 -72.9\\ 18.96 -75.1\\
19.00 -72.8\\ 19.04 -74.9\\ 19.08 -72.5\\ 19.12 -74.7\\ 19.16 -72.3\\ 19.20 -74.5\\ 19.24 -72.1\\ 19.28 -74.3\\ 19.32 -71.9\\ 19.36 -74.0\\
19.40 -71.7\\ 19.44 -73.9\\ 19.48 -71.5\\ 19.52 -73.6\\ 19.56 -71.3\\ 19.60 -73.4\\ 19.64 -71.3\\ 19.68 -73.5\\ 19.72 -71.4\\ 19.76 -73.6\\
19.80 -71.5\\ 19.84 -73.7\\ 19.88 -71.6\\ 19.92 -73.8\\ 19.96 -71.7\\ 20.00 -73.9\\ 20.04 -71.8\\ 20.08 -73.7\\ 20.12 -71.7\\ 20.16 -73.6\\
20.20 -71.6\\ 20.24 -73.4\\ 20.28 -71.5\\ 20.32 -73.3\\ 20.36 -71.4\\ 20.40 -73.1\\ 20.44 -71.4\\ 20.48 -73.0\\ 20.52 -71.3\\ 20.56 -72.8\\
20.60 -71.8\\ 20.70 -72.2\\ 20.85 -71.8\\ 21.00 -72.0\\ 21.17 -71.6\\ 21.30 -70.5\\ 21.40 -69.5\\ 21.52 -68.8\\ 21.65 -68.0\\ 21.75 -67.5\\
21.87 -66.8\\ 22.05 -66.5\\ 22.20 -65.5\\ 22.31 -65.8\\ 22.45 -65.0\\ 22.60 -64.2\\ 22.75 -63.4\\ 22.90 -63.8\\ 23.00 -64.5\\ 23.10 -64.1\\
23.25 -63.0\\ 23.45 -62.0\\ 23.60 -62.0\\ 23.71 -61.7\\ 23.85 -62.0\\ 24.00 -62.7\\
}\naa

\pgfplotsset{
  vlf/.style={
    scale only axis, width=262.5pt, height=67.6pt,
    anchor=south west,
    xmin=0, xmax=24,
    xtick={0,6,12,18,24},
    xticklabels={00:00,06:00,12:00,18:00,00:00},
    tick align=inside, major tick length=2.4pt,
    xtick pos=both, ytick pos=both,
    axis line style={draw=axgray, line width=0.6pt},
    tick style={draw=axgray, line width=0.6pt},
    tick label style={font=\fontsize{10.2}{12}\selectfont, text=axgray, inner sep=0pt},
    xticklabel style={yshift=-7.4pt},
    yticklabel style={xshift=-5pt},
  },
  trace/.style={draw=mblue, line width=0.55pt, mark=none, line join=round},
}
\tikzset{
  stn/.style={anchor=base west, inner sep=0pt, text=black,
    font=\fontsize{14.4}{16}\selectfont, yshift=2.1pt},
}

\begin{document}
\begin{tikzpicture}
\useasboundingbox (0,0) rectangle (583.25pt,437.5pt);

\begin{axis}[vlf, at={(22.75pt,367.9pt)}, ymin=-110, ymax=-30,
  ytick={-100,-50}, yticklabels={-100,-50}]
\addplot[trace] table[x=h, y=a] {\npm};
\node[stn] at (rel axis cs:0.051,0) {NPM Amplitude: 16-Dec-2025};
\end{axis}

\begin{axis}[vlf, at={(314.75pt,367.9pt)}, ymin=-110, ymax=-50,
  ytick={-100,-50}, yticklabels={-100,-50}]
\addplot[trace] table[x=h, y=a] {\nrk};
\node[stn] at (rel axis cs:0.051,0) {NRK Amplitude: 16-Dec-2025};
\end{axis}

\begin{axis}[vlf, at={(22.75pt,280.4pt)}, ymin=-95, ymax=-40,
  ytick={-80,-60,-40}, yticklabels={-80,-60,-40}]
\addplot[trace] table[x=h, y=a] {\nlk};
\node[stn] at (rel axis cs:0.051,0) {NLK Amplitude: 16-Dec-2025};
\end{axis}

\begin{axis}[vlf, at={(314.75pt,280.4pt)}, ymin=-95, ymax=-60,
  ytick={-90,-80,-70,-60}, yticklabels={-90,-80,-70,-60}]
\addplot[trace] table[x=h, y=a] {\dho};
\node[stn] at (rel axis cs:0.051,0) {DHO Amplitude: 16-Dec-2025};
\end{axis}

\begin{axis}[vlf, at={(22.75pt,195.25pt)}, ymin=-95, ymax=-40,
  ytick={-80,-60,-40}, yticklabels={-80,-60,-40}]
\addplot[trace] table[x=h, y=a] {\ndk};
\node[stn] at (rel axis cs:0.051,0) {NDK Amplitude: 16-Dec-2025};
\end{axis}

\begin{axis}[vlf, at={(314.75pt,195.25pt)}, ymin=-95, ymax=-40,
  ytick={-80,-60,-40}, yticklabels={-80,-60,-40}]
\addplot[trace, line width=0.7pt] table[x=h, y=a] {\jxn};
\node[stn] at (rel axis cs:0.051,0) {JXN Amplitude: 16-Dec-2025};
\end{axis}

\begin{axis}[vlf, at={(22.75pt,109.75pt)}, ymin=-95, ymax=-40,
  ytick={-80,-60,-40}, yticklabels={-80,-60,-40}]
\addplot[trace] table[x=h, y=a] {\naa};
\node[stn] at (rel axis cs:0.051,0) {NAA Amplitude: 16-Dec-2025};
\end{axis}

\node[anchor=base west, inner sep=0pt, text=red,
  font=\fontsize{16.6}{20}\selectfont] at (311.75pt,159pt) {Fairbanks WWLLN+AARDDVARK};
\end{tikzpicture}
\end{document}
